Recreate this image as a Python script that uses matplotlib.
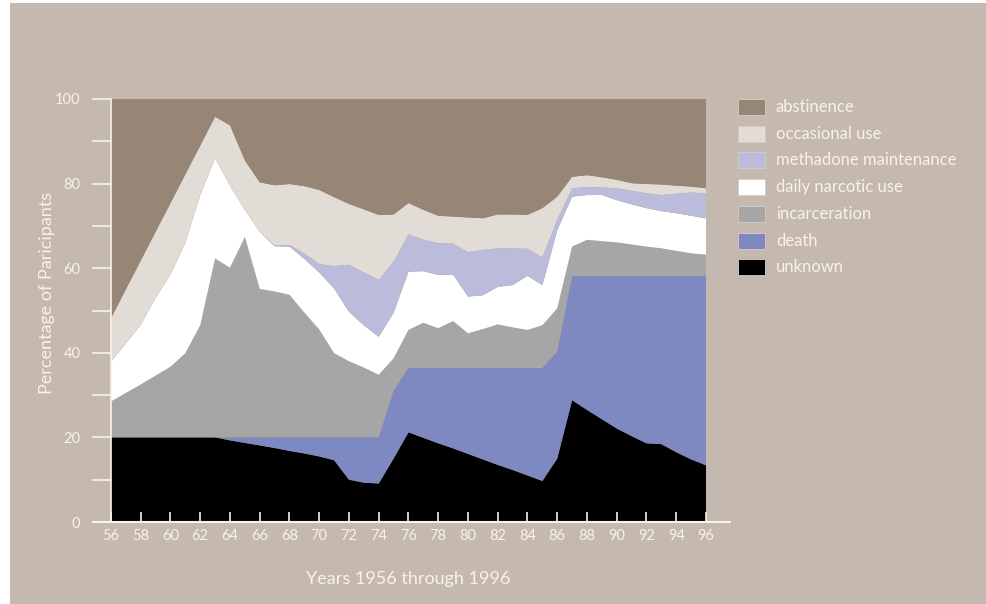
import matplotlib
matplotlib.use('Agg')
import matplotlib.pyplot as plt
from matplotlib.patches import Rectangle

plt.rcParams['font.family'] = ['Lato', 'DejaVu Sans']

years = list(range(1956, 1997))
year_labels = [str(y)[2:] for y in range(1956, 1997, 2)]

categories = ['abstinence', 'occasional use', 'methadone maintenance',
              'daily narcotic use', 'incarceration', 'death', 'unknown']

# percentage of participants per year, one list per outcome
unknown = [20, 20, 20, 20, 20, 20, 20, 20, 19.3, 18.7, 18.1, 17.5, 16.8, 16.2, 15.5, 14.6,
           10.0, 9.3, 9.1, 15.0, 21.2, 19.9, 18.6, 17.4, 16.1, 14.8, 13.5, 12.3, 11.0, 9.7,
           15.0, 28.8, 26.5, 24.3, 22.1, 20.3, 18.6, 18.4, 16.5, 14.8, 13.4]
death = [0, 0, 0, 0, 0, 0, 0, 0, 0.7, 1.3, 1.9, 2.5, 3.2, 3.8, 4.5, 5.4,
         10.0, 10.7, 10.9, 16.0, 15.2, 16.5, 17.8, 19.0, 20.3, 21.6, 22.9, 24.1, 25.4, 26.7,
         25.3, 29.3, 31.6, 33.8, 36.0, 37.8, 39.5, 39.7, 41.6, 43.3, 44.7]
incarceration = [8.5, 10.5, 12.5, 14.6, 16.7, 19.9, 26.5, 42.3, 40.1, 47.4, 35.1, 34.5, 33.7, 29.5, 25.5, 19.9,
                 18.0, 16.5, 14.8, 7.7, 9.0, 10.7, 9.4, 11.1, 8.2, 9.2, 10.3, 9.6, 9.0, 10.1,
                 10.2, 7.0, 8.6, 8.3, 8.0, 7.5, 7.0, 6.6, 6.0, 5.4, 5.1]
daily_use = [9.4, 11.7, 14.1, 18.4, 21.8, 26.1, 30.8, 23.7, 19.4, 6.4, 13.5, 10.7, 11.4, 12.7, 13.5, 15.3,
             11.7, 10.0, 9.0, 10.8, 13.8, 12.2, 12.6, 11.0, 8.7, 8.0, 8.9, 10.0, 12.8, 9.5,
             18.5, 11.8, 10.6, 10.9, 10.0, 9.5, 9.1, 8.8, 8.9, 8.9, 8.6]
methadone = [0, 0, 0, 0, 0, 0, 0, 0, 0, 0, 0, 0.2, 0.4, 1.3, 2.0, 5.3,
             11.1, 12.5, 13.4, 12.0, 8.8, 7.4, 7.5, 7.3, 10.5, 10.7, 9.1, 8.7, 6.4, 6.5,
             2.5, 2.0, 1.9, 1.8, 2.8, 3.2, 3.5, 3.8, 4.6, 5.5, 5.9]
occasional = [10.3, 12.8, 15.2, 15.6, 16.9, 16.2, 11.7, 9.8, 14.3, 11.7, 11.7, 14.2, 14.4, 15.9, 17.5, 16.3,
              14.4, 14.9, 15.4, 11.2, 7.4, 7.1, 6.5, 6.4, 8.2, 7.5, 8.0, 8.0, 8.0, 11.7,
              5.4, 2.7, 2.8, 2.4, 2.0, 1.8, 2.2, 2.5, 1.9, 1.4, 1.2]
abstinence = [51.8, 45.0, 38.2, 31.4, 24.6, 17.8, 11.0, 4.2, 6.2, 14.5, 19.7, 20.4, 20.1, 20.6, 21.5, 23.2,
              24.8, 26.1, 27.4, 27.3, 24.6, 26.2, 27.6, 27.8, 28.0, 28.2, 27.3, 27.3, 27.4, 25.8,
              23.1, 18.4, 18.0, 18.5, 19.1, 19.9, 20.1, 20.2, 20.5, 20.7, 21.1]

colors = ['#978576', '#e2dcd7', '#bbbbdc', '#ffffff', '#a6a6a6', '#7f89c1', '#000000']
bg = '#c4b8af'
ink = '#f7f3ea'

fig = plt.figure(figsize=(9.86, 6.04), dpi=100, facecolor='white')
fig.add_artist(Rectangle((10 / 986, 0), 1, 1 - 3 / 604, transform=fig.transFigure,
                         facecolor=bg, edgecolor='none', zorder=-10))

ax = fig.add_axes([111 / 986, 82 / 604, 595 / 986, 423 / 604])
ax.set_facecolor(colors[0])
ax.stackplot(years, unknown, death, incarceration, daily_use, methadone, occasional, abstinence,
             colors=colors[::-1], linewidth=0)
ax.set_xlim(1956, 1996)
ax.set_ylim(0, 100)

for side in ['top', 'right', 'bottom']:
    ax.spines[side].set_visible(False)
ax.spines['left'].set_color(ink)
ax.spines['left'].set_linewidth(1.2)
ax.plot([-0.03, 1.04], [0, 0], transform=ax.transAxes, color=ink, lw=1.5, clip_on=False)

ax.set_xticks(range(1956, 1997, 2))
ax.set_xticklabels(year_labels)
ax.tick_params(axis='x', direction='in', length=7, width=1.2, color=ink,
               labelcolor=ink, labelsize=10.5, pad=5)
ax.set_yticks(range(0, 101, 20))
ax.set_yticks(range(10, 100, 20), minor=True)
ax.tick_params(axis='y', which='both', direction='out', length=14, width=1.2, color=ink,
               labelcolor=ink, labelsize=10.5, pad=8)

ax.set_xlabel('Years 1956 through 1996', color=ink, fontsize=13, labelpad=20)
ax.set_ylabel('Percentage of Paricipants', color=ink, fontsize=13)
ax.yaxis.set_label_coords(-0.094, 0.541)

# legend drawn as boxes and text at the right
for i, (name, c) in enumerate(zip(categories, colors)):
    yc = 107 + i * 26.7
    fig.add_artist(Rectangle((738 / 986, 1 - (yc + 8) / 604), 27 / 986, 16 / 604,
                             transform=fig.transFigure, facecolor=c,
                             edgecolor='#d6ccc4', linewidth=0.6))
    fig.text(776 / 986, 1 - yc / 604, name, color=ink, fontsize=12, va='center', ha='left')

fig.savefig('out.png', dpi=100, facecolor=fig.get_facecolor())
